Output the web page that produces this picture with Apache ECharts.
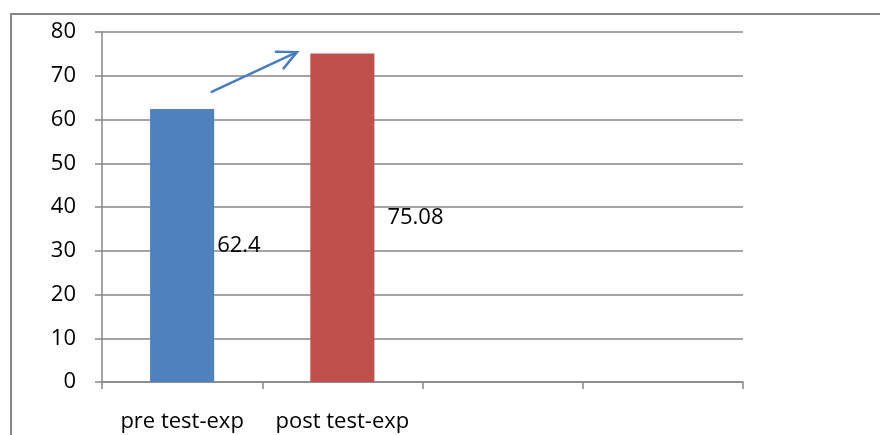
<!DOCTYPE html>
<html>
<head>
<meta charset="utf-8">
<script src="https://cdn.jsdelivr.net/npm/echarts@6/dist/echarts.min.js"></script>
<style>
  html, body { margin: 0; padding: 0; background: #fff; }
  #chart { width: 880px; height: 435px; }
</style>
</head>
<body>
<div id="chart"></div>
<script>
// Test scores: four category slots, only the first two are filled
var categories = ['pre test-exp', 'post test-exp', '', ''];
var scores = [62.4, 75.08, null, null];
var barColors = ['#4f81bd', '#c0504d'];
var labelGaps = [3, 13];
var yTicks = { min: 0, max: 80, interval: 10 };
// Trend arrow endpoints, in data space: [category index, offset in bar widths, value]
var arrowFrom = [0, 0.46, 66.3];
var arrowTo = [1, -0.71, 75.4];

var font = '"Open Sans", "Liberation Sans", sans-serif';
var fontSize = 22;
var gridColor = '#868686';

var chart = echarts.init(document.getElementById('chart'));

var option = {
  animation: false,
  backgroundColor: '#fff',
  grid: { left: 102, right: 137, top: 32, bottom: 53, containLabel: false },
  xAxis: {
    type: 'category',
    data: categories,
    axisLine: { lineStyle: { color: gridColor, width: 1.5 } },
    axisTick: { show: true, length: 7, lineStyle: { color: gridColor, width: 1.5 } },
    axisLabel: { color: '#000', fontFamily: font, fontSize: fontSize, margin: 29, interval: 0 }
  },
  yAxis: {
    type: 'value',
    min: yTicks.min,
    max: yTicks.max,
    interval: yTicks.interval,
    axisLine: { show: true, lineStyle: { color: gridColor, width: 1.5 } },
    axisTick: { show: true, length: 7, lineStyle: { color: gridColor, width: 1.5 } },
    axisLabel: { color: '#000', fontFamily: font, fontSize: fontSize, margin: 26 },
    splitLine: { lineStyle: { color: gridColor, width: 1.5 } }
  },
  series: [{
    type: 'bar',
    barWidth: '40%',
    data: scores.map(function (v, i) {
      return {
        value: v,
        itemStyle: { color: barColors[i] || '#999' },
        label: { distance: labelGaps[i] != null ? labelGaps[i] : 5 }
      };
    }),
    label: {
      show: true,
      position: 'right',
      color: '#000',
      fontFamily: font,
      fontSize: fontSize,
      formatter: function (p) { return p.value == null ? '' : String(p.value); }
    }
  }]
};
chart.setOption(option);

// Outer frame and the trend arrow between the two bars
function arrowGraphic() {
  var bandW = (880 - 102 - 137) / categories.length;
  var barW = bandW * 0.4;
  var p0 = chart.convertToPixel({ gridIndex: 0 }, [arrowFrom[0], arrowFrom[2]]);
  var p1 = chart.convertToPixel({ gridIndex: 0 }, [arrowTo[0], arrowTo[2]]);
  var x0 = p0[0] + arrowFrom[1] * barW, y0 = p0[1];
  var x1 = p1[0] + arrowTo[1] * barW, y1 = p1[1];
  var ang = Math.atan2(y1 - y0, x1 - x0);
  var head = 21, spread = 0.45;
  var a1 = [x1 - head * Math.cos(ang - spread), y1 - head * Math.sin(ang - spread)];
  var a2 = [x1 - head * Math.cos(ang + spread), y1 - head * Math.sin(ang + spread)];
  var stroke = { stroke: '#4a7ebb', lineWidth: 2.5, lineCap: 'round', fill: null };
  return [
    { type: 'rect', shape: { x: 11, y: 14, width: 900, height: 460 },
      style: { fill: null, stroke: gridColor, lineWidth: 2 }, silent: true },
    { type: 'line', shape: { x1: x0, y1: y0, x2: x1, y2: y1 }, style: stroke },
    { type: 'polyline', shape: { points: [a1, [x1, y1], a2] }, style: stroke }
  ];
}
chart.setOption({ graphic: arrowGraphic() });
</script>
</body>
</html>
